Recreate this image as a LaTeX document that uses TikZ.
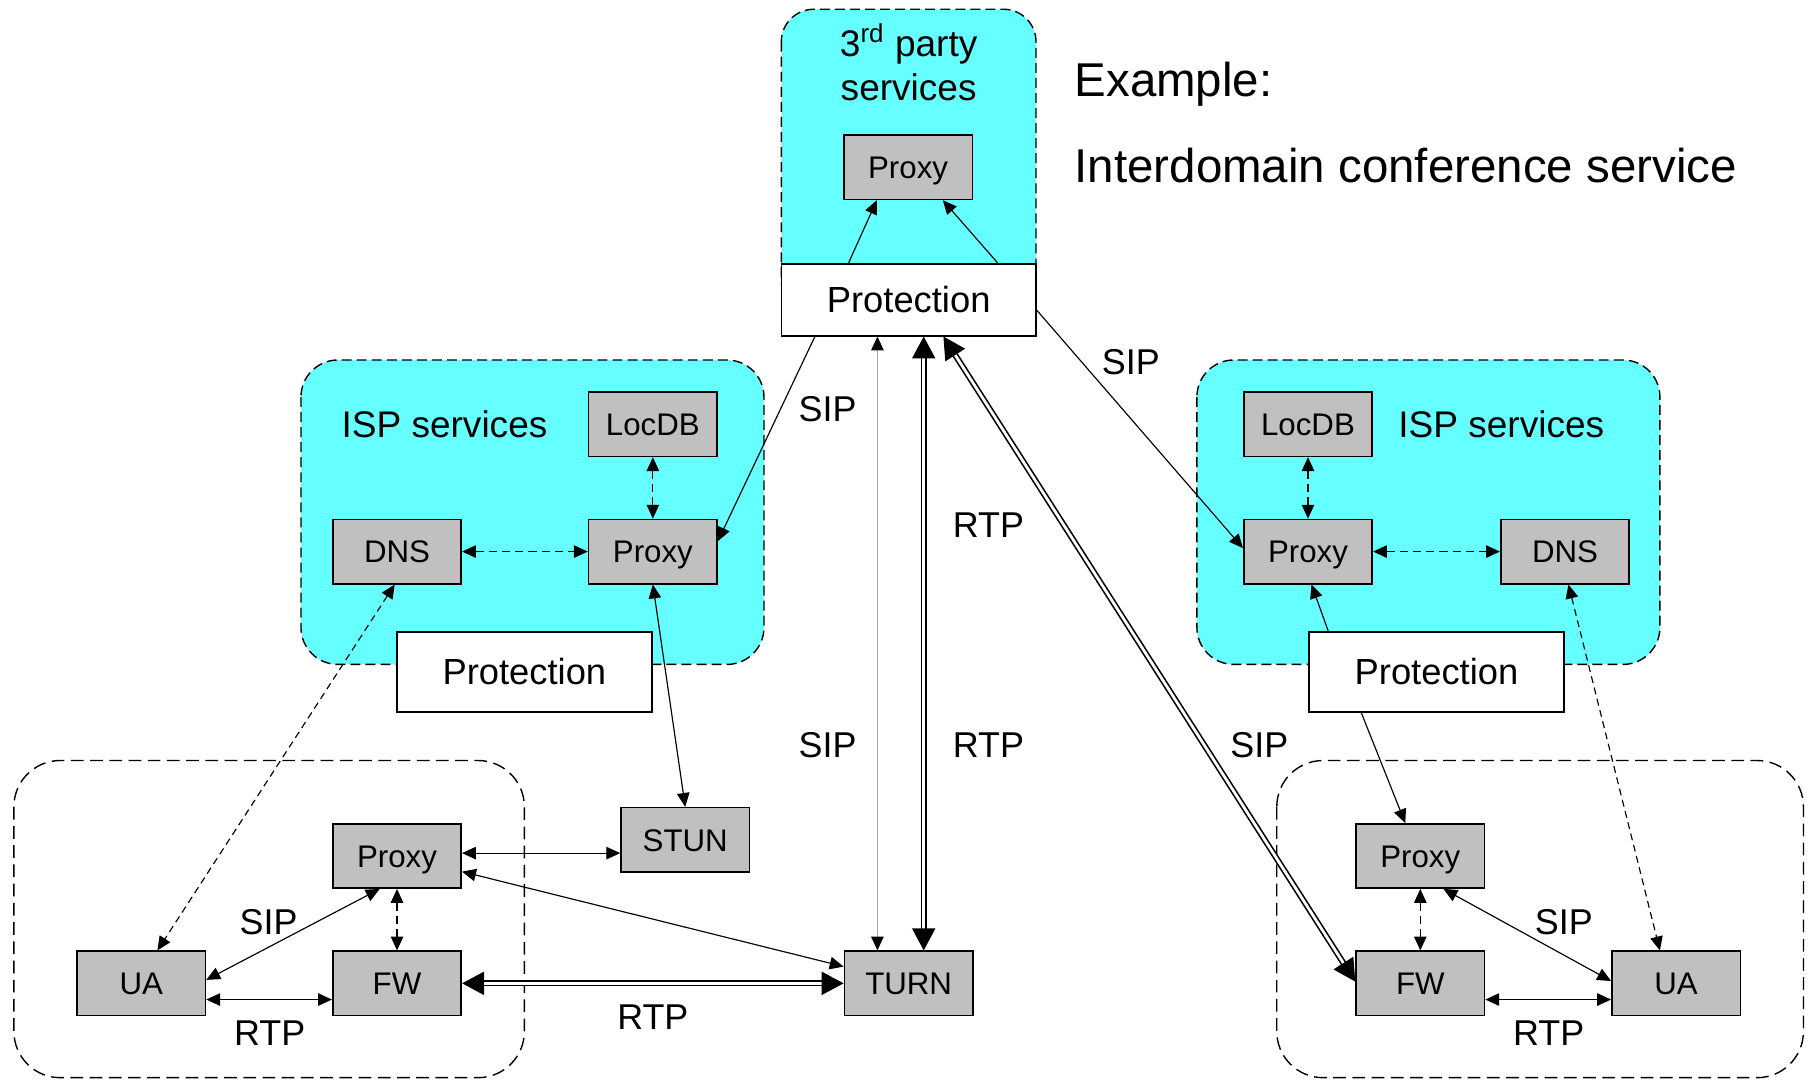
\documentclass[tikz,border=0pt]{standalone}
\usepackage{fontspec}
\setmainfont{Liberation Sans}
\usetikzlibrary{arrows.meta,calc}
\definecolor{ispcyan}{HTML}{66FFFF}
\definecolor{boxgray}{HTML}{C0C0C0}
\definecolor{sipgray}{HTML}{A8A8A8}
\begin{document}
\begin{tikzpicture}[x=0.5pt,y=-0.5pt,
  box/.style={draw,line width=0.7pt,fill=boxgray,minimum width=55.5pt,minimum height=27.75pt,inner sep=0pt,font=\fontsize{13.5}{16}\selectfont,text height=9.7pt,text depth=0pt},
  prot/.style={draw,line width=0.7pt,fill=white,minimum width=110pt,inner sep=0pt,font=\fontsize{15.7}{18}\selectfont,text height=11.2pt,text depth=0pt},
  region/.style={draw,line width=0.6pt,dash pattern=on 4.3pt off 2.2pt,rounded corners=16pt},
  home/.style={draw,line width=0.6pt,dash pattern=on 5.5pt off 2.8pt,rounded corners=20pt},
  lbl/.style={font=\fontsize{15.5}{18}\selectfont,inner sep=0pt,text height=11.1pt,text depth=0pt},
  title/.style={font=\fontsize{16}{19}\selectfont,inner sep=0pt,anchor=base},
  oneway/.style={line width=0.5pt,-{Triangle[length=6pt,width=5.4pt]}},
  twoway/.style={line width=0.5pt,{Triangle[length=6pt,width=5.4pt]}-{Triangle[length=6pt,width=5.4pt]}},
  sig/.style={twoway,dash pattern=on 3.5pt off 2.2pt},
  dbl/.style={double,line width=0.7pt,double distance=1.2pt,{Triangle[length=9.5pt,width=10pt]}-{Triangle[length=9.5pt,width=10pt]}},
]
\useasboundingbox (0,0) rectangle (1568,933);
\pgfmathsetmacro{\dx}{27}

% domains
\draw[region,fill=ispcyan,rounded corners=14pt] (675,8) rectangle (895,270);
\draw[region,fill=ispcyan] (260,311) rectangle (660,574);
\draw[region,fill=ispcyan] (1034,311) rectangle (1434,574);
\draw[home] (12,657) rectangle (453,931);
\draw[home] (1103,657) rectangle (1558,931);

\node[title] (thirdA) at (785,49) {3\textsuperscript{rd} party};
\node[title] (thirdB) at (785,86.4) {services};
\node[title] (lIsp) at (384,378) {ISP services};
\node[title] (rIsp) at (1297,378) {ISP services};
\node[title,anchor=base west,font=\fontsize{20.5}{24}\selectfont] (exA) at (928,83) {Example:};
\node[title,anchor=base west,font=\fontsize{20.5}{24}\selectfont] (exB) at (928,158) {Interdomain conference service};

\node[prot,minimum height=31pt] (tProt) at (785,259) {Protection};
\node[box] (tProxy) at (784.5,144.5) {Proxy};
\node[box] (lLocDB) at (564,366.5) {LocDB};
\node[box] (lDNS) at (343,476.5) {DNS};
\node[box] (lProxy) at (564,476.5) {Proxy};
\node[prot,minimum height=34.5pt] (lProt) at (453,580.5) {Protection};
\node[box] (rLocDB) at (1130,366.5) {LocDB};
\node[box] (rProxy) at (1130,476.5) {Proxy};
\node[box] (rDNS) at (1352,476.5) {DNS};
\node[prot,minimum height=34.5pt] (rProt) at (1241,580.5) {Protection};
\node[box] (blProxy) at (343,739.5) {Proxy};
\node[box] (blUA) at (122,849.5) {UA};
\node[box] (blFW) at (343,849.5) {FW};
\node[box] (stun) at (592,725.5) {STUN};
\node[box] (turn) at (785,849.5) {TURN};
\node[box] (brProxy) at (1227,739.5) {Proxy};
\node[box] (brFW) at (1227,849.5) {FW};
\node[box] (brUA) at (1448,849.5) {UA};

% 3rd party
\draw[oneway] ($(tProt.north)+(-52,0)$) -- ($(tProxy.south)+(-\dx,0)$);
\draw[oneway] ($(tProt.north)+(77,0)$) -- ($(tProxy.south)+(30,0)$);
\draw[oneway] ($(tProt.south)+(-81,0)$) -- ($(lProxy.east)+(0,-9)$);
\draw[oneway] ($(tProt.east)+(0,9)$) -- ($(rProxy.west)+(0,-3)$);
\draw[line width=0.5pt,sipgray,{Triangle[length=6pt,width=5.4pt,color=black]}-{Triangle[length=6pt,width=5.4pt,color=black]}] ($(turn.north)+(-\dx,0)$) -- ($(tProt.south)+(-\dx,0)$);
\draw[dbl] ($(turn.north)+(13,0)$) -- ($(tProt.south)+(13,0)$);
\draw[dbl] ($(tProt.south)+(30,0)$) -- ($(brFW.west)+(0,-1.5)$);

% left side
\draw[sig] (lLocDB.south) -- (lProxy.north);
\draw[sig] (lDNS.east) -- (lProxy.west);
\draw[twoway] (lProxy.south) -- (stun.north);
\draw[twoway,dash pattern=on 3pt off 2pt] ($(lDNS.south)+(-2,0)$) -- ($(blUA.north)+(14,0)$);
\draw[twoway] ($(blProxy.east)+(0,-2.5)$) -- ($(stun.west)+(0,11.5)$);
\draw[twoway] ($(blProxy.east)+(0,13.5)$) -- ($(turn.west)+(0,-14.5)$);
\draw[dbl] (blFW.east) -- (turn.west);
\draw[twoway] ($(blUA.east)+(0,-3)$) -- ($(blProxy.south)+(-15,0)$);
\draw[sig] (blProxy.south) -- (blFW.north);
\draw[twoway] ($(blUA.east)+(0,14)$) -- ($(blFW.west)+(0,14)$);

% right side
\draw[sig] (rLocDB.south) -- (rProxy.north);
\draw[sig] (rProxy.east) -- (rDNS.west);
\draw[oneway] ($(rProt.north)+(-93.5,0)$) -- ($(rProxy.south)+(3,0)$);
\draw[oneway] ($(rProt.south)+(-65,0)$) -- ($(brProxy.north)+(-13,0)$);
\draw[twoway,dash pattern=on 3pt off 2pt] ($(rDNS.south)+(3,0)$) -- ($(brUA.north)+(-14,0)$);
\draw[sig] (brProxy.south) -- (brFW.north);
\draw[twoway] ($(brProxy.south)+(20,0)$) -- ($(brUA.west)+(0,-2)$);
\draw[twoway] ($(brFW.east)+(0,14)$) -- ($(brUA.west)+(0,14)$);

\node[lbl] (sipA) at (715,353) {SIP};
\node[lbl] (sipB) at (977,312) {SIP};
\node[lbl] (rtpA) at (854,453) {RTP};
\node[lbl] (sipC) at (715,643) {SIP};
\node[lbl] (rtpB) at (854,643) {RTP};
\node[lbl] (sipD) at (1088,643) {SIP};
\node[lbl] (sipE) at (232,796) {SIP};
\node[lbl] (rtpC) at (233,892) {RTP};
\node[lbl] (rtpD) at (564,878) {RTP};
\node[lbl] (sipF) at (1351,796) {SIP};
\node[lbl] (rtpE) at (1338,892) {RTP};
\end{tikzpicture}
\end{document}
